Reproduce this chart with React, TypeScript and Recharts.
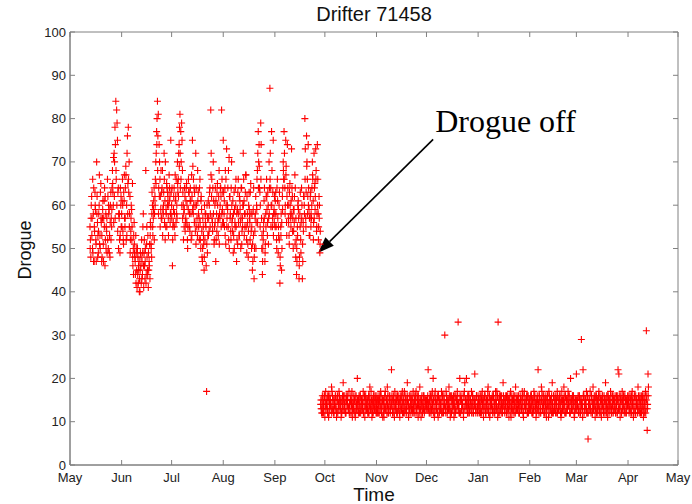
import { ScatterChart, Scatter, XAxis, YAxis, ReferenceArea, ReferenceLine } from "recharts";

// time axis: days since 1 May; each list holds readings half a day apart,
// the "B" and "C" lists are the readings taken in between
const STEP = 0.5;

const monthTicks = [0, 31, 61, 92, 123, 153, 184, 214, 245, 276, 304, 335, 365];
const monthNames = ["May", "Jun", "Jul", "Aug", "Sep", "Oct", "Nov", "Dec", "Jan", "Feb", "Mar", "Apr", "May"];
const drogueTicks = [0, 10, 20, 30, 40, 50, 60, 70, 80, 90, 100];

// drogue attached (May -> end Sep)
const mayOn = [55, 48, 62, 50, 58, 47, 63, 52, 70, 56, 49, 60, 53, 65, 47, 57, 51, 61, 46, 58, 54, 66, 50, 59, 48, 63, 55, 68, 60, 72, 78, 84, 82, 75, 64, 57, 49, 60];
const junOn = [58, 66, 52, 61, 55, 69, 60, 76, 78, 70, 62, 54, 59, 65, 50, 56, 48, 53, 45, 50, 42, 47, 40, 46, 52, 44, 58, 49, 43, 68, 51, 45, 41, 47, 43, 55, 48, 60, 57, 64, 62, 70, 77, 84, 81, 74, 66, 59, 63, 68, 58, 72, 61, 55, 65, 60, 57, 67, 62, 75];
const julOn = [60, 46, 56, 64, 53, 62, 58, 70, 66, 74, 81, 77, 79, 68, 60, 55, 62, 57, 65, 52, 59, 63, 54, 61, 67, 75, 58, 64, 56, 72, 60, 53, 63, 57, 66, 50, 59, 47, 55, 45, 52, 58, 17, 49, 61, 54, 64, 82, 62, 56, 70, 51, 60, 47, 58, 65, 53, 68, 57, 64, 82, 59];
const augOn = [75, 58, 64, 51, 73, 60, 55, 71, 62, 54, 70, 57, 49, 63, 56, 60, 47, 59, 66, 53, 61, 50, 64, 57, 72, 61, 55, 67, 52, 58, 48, 63, 56, 65, 50, 45, 59, 43, 54, 62, 60, 68, 77, 74, 63, 79, 57, 44, 52, 61, 47, 58, 66, 53, 60, 70, 87, 64, 77, 55, 75, 59];
const sepOn = [58, 63, 52, 66, 49, 60, 42, 55, 45, 62, 70, 77, 64, 75, 56, 74, 60, 53, 65, 57, 73, 62, 50, 59, 67, 48, 44, 55, 61, 43, 58, 52, 64, 43, 56, 62, 80, 57, 76, 66, 74, 59, 53, 63, 57, 70, 61, 72, 65, 73, 54, 74, 58, 62, 49];

const mayOnB = [52, 60, 57, 49, 64, 54, 59, 47, 62, 53, 58, 51, 63, 56, 48, 61, 57, 64, 52, 55, 49, 62, 58, 53, 60, 57, 64, 63, 56, 70, 74, 66, 79, 63, 58, 52, 64, 55];
const junOnB = [61, 54, 63, 57, 64, 52, 72, 65, 63, 58, 52, 60, 55, 46, 53, 49, 44, 50, 41, 48, 45, 43, 49, 42, 47, 55, 41, 46, 50, 44, 48, 53, 45, 51, 56, 50, 63, 53, 61, 58, 66, 72, 80, 76, 64, 70, 62, 57, 64, 59, 63, 56, 70, 58, 64, 62, 60, 64, 58, 63];
const julOnB = [64, 55, 62, 58, 61, 66, 57, 63, 72, 78, 64, 70, 75, 63, 58, 64, 56, 64, 60, 55, 63, 58, 64, 52, 62, 69, 60, 63, 54, 64, 57, 61, 55, 64, 52, 62, 48, 57, 51, 60, 56, 46, 60, 53, 57, 63, 58, 72, 57, 64, 61, 55, 64, 52, 63, 56, 62, 58, 64, 55, 66, 63];
const augOnB = [63, 55, 68, 60, 57, 64, 52, 62, 58, 64, 56, 61, 53, 59, 64, 55, 52, 63, 58, 62, 56, 64, 54, 60, 66, 58, 63, 55, 62, 51, 60, 57, 63, 54, 58, 47, 64, 50, 58, 56, 66, 72, 70, 64, 60, 74, 53, 50, 56, 64, 51, 62, 59, 63, 57, 64, 72, 60, 68, 63, 58, 62];
const sepOnB = [61, 55, 64, 57, 53, 63, 46, 58, 50, 64, 66, 72, 60, 69, 62, 64, 56, 63, 58, 61, 64, 57, 54, 62, 64, 52, 47, 60, 57, 48, 63, 56, 60, 47, 62, 58, 73, 63, 70, 62, 64, 57, 62, 58, 64, 66, 56, 64, 62, 68, 58, 66, 55, 60, 54];

const mayOnC = [50, 57, 53, 66, 47, 55, 60, 51, 58, 48, 54, 67, 50, 57, 53, 59, 47, 55, 62, 50, 57, 52, 60, 49, 56, 52, 59, 65, 71, 62, 57, 68, 60, 54, 50, 58, 53, 62];
const junOnC = [55, 60, 51, 67, 57, 67, 53, 58, 66, 55, 49, 57, 52, 48, 44, 51, 47, 42, 49, 44, 46, 40, 45, 48, 43, 49, 46, 52, 47, 42, 55, 44, 49, 46, 53, 51, 58, 55, 59, 52, 60, 65, 74, 68, 58, 62, 55, 68, 57, 53, 60, 66, 52, 59, 55, 63, 53, 61, 56, 58];
const julOnC = [57, 52, 59, 55, 67, 56, 60, 65, 62, 69, 72, 66, 60, 57, 52, 59, 54, 61, 56, 50, 66, 55, 61, 58, 53, 59, 66, 56, 60, 51, 55, 68, 58, 52, 56, 61, 54, 50, 53, 48, 58, 55, 51, 57, 53, 60, 55, 67, 66, 54, 58, 52, 56, 61, 54, 60, 57, 51, 60, 62, 58, 56];
const augOnC = [56, 61, 53, 66, 55, 59, 68, 50, 57, 52, 60, 54, 58, 50, 55, 66, 58, 51, 56, 53, 59, 57, 51, 55, 60, 53, 58, 67, 49, 56, 54, 59, 52, 58, 55, 51, 53, 48, 57, 50, 59, 56, 64, 69, 55, 66, 50, 47, 54, 57, 49, 55, 62, 56, 51, 58, 66, 55, 60, 57, 53, 56];
const sepOnC = [55, 58, 50, 61, 55, 52, 48, 53, 56, 59, 68, 66, 58, 67, 53, 60, 57, 51, 60, 55, 58, 54, 59, 56, 51, 57, 50, 53, 59, 46, 55, 49, 57, 51, 54, 60, 66, 55, 69, 58, 60, 53, 57, 55, 60, 67, 52, 57, 59, 66, 55, 60, 52, 57, 51];

// drogue off (end Sep -> mid Apr)
const octOff = [14, 12, 16, 13, 15, 11, 17, 14, 13, 15, 12, 16, 14, 18, 13, 15, 12, 14, 16, 11, 15, 13, 17, 14, 15, 12, 14, 19, 13, 16, 12, 15, 14, 13, 17, 12, 15, 14, 11, 16, 13, 15, 12, 14, 20, 13, 16, 14, 12, 15, 13, 17, 14, 11, 16, 13, 15, 14, 12, 18, 13, 15, 14, 12, 16, 13, 15, 14];
const novOff = [13, 15, 12, 16, 14, 17, 12, 15, 14, 11, 16, 13, 15, 18, 12, 14, 16, 13, 22, 15, 12, 14, 17, 13, 15, 12, 16, 14, 11, 15, 13, 17, 14, 16, 12, 15, 13, 19, 14, 12, 16, 14, 13, 15, 17, 12, 14, 16, 13, 15, 11, 14, 18, 13, 15, 12, 14, 16, 13, 15];
const decOff = [15, 13, 22, 14, 12, 16, 13, 17, 20, 14, 12, 15, 13, 16, 11, 14, 15, 13, 17, 12, 14, 16, 30, 13, 15, 12, 14, 18, 13, 16, 12, 15, 14, 11, 16, 13, 15, 17, 33, 14, 20, 12, 15, 14, 16, 13, 19, 15, 20, 14, 12, 16, 13, 15, 17, 14, 12, 15, 21, 13, 16, 14];
const janOff = [13, 16, 14, 12, 15, 17, 13, 14, 16, 12, 15, 13, 18, 14, 11, 15, 14, 16, 13, 15, 12, 17, 14, 13, 33, 15, 12, 16, 14, 13, 19, 15, 12, 14, 16, 13, 15, 11, 14, 17, 13, 15, 12, 16, 14, 18, 13, 15, 16, 12, 14, 15, 13, 17, 12, 16, 14, 13, 15, 12, 16, 14];
const febOff = [15, 13, 16, 14, 12, 17, 15, 13, 14, 16, 22, 12, 15, 13, 18, 14, 16, 12, 15, 14, 11, 16, 13, 17, 14, 15, 12, 19, 13, 16, 14, 12, 15, 17, 13, 14, 16, 12, 15, 13, 14, 18, 12, 16, 15, 13, 17, 14, 12, 20, 15, 13, 16, 14, 12, 15];
const marOff = [21, 14, 16, 13, 15, 12, 29, 14, 22, 16, 13, 15, 17, 12, 6, 14, 15, 13, 16, 12, 18, 14, 15, 13, 16, 12, 14, 17, 13, 15, 11, 16, 14, 13, 15, 19, 12, 16, 14, 13, 15, 17, 12, 14, 16, 13, 15, 12, 14, 16, 22, 21, 13, 15, 12, 17, 14, 16, 13, 15, 12, 14];
const aprOff = [14, 16, 13, 15, 12, 17, 14, 13, 16, 12, 15, 14, 18, 13, 15, 12, 16, 14, 13, 15, 12, 17, 31, 8, 21];

const octOffB = [13, 15, 14, 12, 16, 14, 13, 15, 16, 11, 14, 15, 13, 17, 15, 12, 14, 16, 13, 15, 12, 14, 16, 13, 11, 15, 13, 16, 14, 12, 15, 14, 16, 13, 14, 15, 12, 17, 14, 13, 15, 11, 16, 13, 14, 15, 12, 16, 14, 13, 15, 12, 16, 14, 13, 15, 12, 16, 14, 13, 17, 11, 15, 14, 13, 16, 12, 15];
const novOffB = [16, 12, 14, 15, 13, 16, 14, 11, 15, 13, 17, 14, 12, 16, 13, 15, 12, 14, 16, 13, 15, 11, 14, 16, 13, 15, 14, 12, 16, 13, 15, 14, 12, 17, 13, 15, 14, 16, 11, 13, 15, 14, 16, 12, 13, 15, 14, 17, 12, 16, 14, 13, 15, 11, 16, 14, 13, 12, 15, 14];
const decOffB = [14, 16, 13, 15, 14, 12, 16, 13, 15, 11, 17, 14, 13, 15, 16, 12, 14, 13, 15, 16, 12, 14, 13, 17, 14, 15, 13, 16, 11, 15, 14, 13, 16, 14, 12, 15, 13, 16, 14, 12, 15, 16, 13, 14, 11, 17, 14, 15, 13, 16, 14, 12, 15, 13, 14, 16, 12, 14, 15, 13, 16, 12];
const janOffB = [15, 12, 14, 16, 13, 15, 11, 16, 14, 13, 15, 17, 12, 16, 14, 13, 15, 12, 16, 14, 13, 15, 17, 11, 14, 16, 13, 15, 12, 14, 16, 13, 15, 14, 12, 16, 13, 15, 14, 11, 16, 13, 15, 14, 12, 16, 13, 15, 14, 12, 16, 13, 15, 14, 11, 17, 13, 15, 14, 16, 12, 13];
const febOffB = [14, 16, 12, 15, 13, 16, 14, 11, 15, 13, 14, 16, 12, 15, 17, 13, 14, 12, 16, 13, 15, 14, 11, 16, 13, 15, 14, 12, 16, 13, 15, 14, 12, 16, 13, 15, 14, 11, 17, 13, 15, 14, 16, 12, 13, 15, 14, 16, 12, 14, 13, 15, 16, 11, 14, 13];
const marOffB = [13, 15, 12, 16, 14, 13, 15, 11, 16, 14, 13, 15, 12, 16, 14, 13, 17, 12, 15, 14, 13, 16, 11, 15, 14, 13, 16, 12, 15, 14, 13, 16, 12, 15, 14, 13, 16, 11, 15, 14, 13, 16, 12, 14, 15, 13, 16, 12, 14, 15, 13, 16, 11, 14, 15, 13, 16, 12, 15, 14, 13, 16];
const aprOffB = [15, 13, 16, 12, 14, 15, 11, 16, 12, 14, 15, 13, 16, 12, 14, 15, 13, 16, 11, 14, 15, 13, 16, 14, 18];

const octOffC = [15, 13, 12, 14, 16, 13, 15, 14, 12, 16, 13, 15, 14, 12, 16, 13, 15, 14, 13, 12, 16, 14, 15, 13, 14, 12, 16, 15, 13, 14, 12, 16, 15, 13, 12, 14, 16, 15, 13, 14, 12, 16, 14, 13, 15, 12, 14, 16, 13, 15, 14, 12, 16, 13, 15, 14, 13, 12, 16, 15, 14, 13, 12, 16, 15, 14, 13, 12];
const novOffC = [14, 13, 15, 12, 16, 14, 13, 15, 12, 14, 16, 13, 15, 14, 12, 16, 13, 15, 14, 12, 16, 13, 15, 14, 12, 16, 13, 15, 14, 13, 16, 12, 15, 14, 13, 16, 12, 15, 14, 13, 16, 12, 15, 13, 14, 16, 12, 15, 13, 14, 16, 12, 15, 13, 14, 12, 16, 15, 13, 14];
const decOffC = [13, 15, 14, 12, 16, 13, 15, 14, 12, 16, 13, 15, 14, 12, 16, 13, 15, 14, 12, 16, 13, 15, 14, 12, 16, 13, 15, 14, 13, 12, 16, 15, 14, 13, 12, 16, 15, 14, 13, 12, 16, 15, 13, 14, 12, 16, 13, 15, 14, 12, 16, 13, 15, 14, 12, 16, 13, 15, 14, 12, 16, 13];
const janOffC = [14, 15, 13, 16, 12, 14, 15, 13, 16, 12, 14, 15, 13, 16, 12, 14, 15, 13, 16, 12, 14, 15, 13, 16, 12, 14, 15, 13, 16, 12, 14, 15, 13, 16, 12, 14, 15, 13, 16, 12, 14, 15, 13, 16, 12, 14, 15, 13, 16, 12, 14, 15, 13, 16, 12, 14, 15, 13, 16, 12, 14, 15];
const febOffC = [13, 16, 14, 12, 15, 13, 16, 14, 12, 15, 13, 16, 14, 12, 15, 13, 16, 14, 12, 15, 13, 16, 14, 12, 15, 13, 16, 14, 12, 15, 13, 16, 14, 12, 15, 13, 16, 14, 12, 15, 13, 16, 14, 12, 15, 13, 16, 14, 12, 15, 13, 16, 14, 12, 15, 13];
const marOffC = [15, 14, 13, 16, 12, 15, 14, 13, 16, 12, 15, 14, 13, 16, 12, 15, 14, 13, 16, 12, 15, 14, 13, 16, 12, 15, 14, 13, 16, 12, 15, 14, 13, 16, 12, 15, 14, 13, 16, 12, 15, 14, 13, 16, 12, 15, 14, 13, 16, 12, 15, 14, 13, 16, 12, 15, 14, 13, 16, 12, 15, 14];
const aprOffC = [14, 12, 15, 13, 16, 14, 12, 15, 13, 16, 14, 12, 15, 13, 16, 14, 12, 15, 13, 16, 14, 12, 15, 13, 16];

const segments: [number, number[]][] = [
  [12, mayOn], [31, junOn], [61, julOn], [92, augOn], [123, sepOn],
  [12.25, mayOnB], [31.25, junOnB], [61.25, julOnB], [92.25, augOnB], [123.25, sepOnB],
  [12.125, mayOnC], [31.125, junOnC], [61.125, julOnC], [92.125, augOnC], [123.125, sepOnC],
  [150.5, octOff], [184, novOff], [214, decOff], [245, janOff], [276, febOff], [304, marOff], [335, aprOff],
  [150.75, octOffB], [184.25, novOffB], [214.25, decOffB], [245.25, janOffB], [276.25, febOffB], [304.25, marOffB], [335.25, aprOffB],
  [150.625, octOffC], [184.125, novOffC], [214.125, decOffC], [245.125, janOffC], [276.125, febOffC], [304.125, marOffC], [335.125, aprOffC],
];

const points = segments.flatMap(([start, vals]) => vals.map((v, i) => ({ t: start + i * STEP, v })));

const W = 692;
const H = 504;
const TOP = 32;
const BOTTOM = 465;
const LEFT = 70;
const RIGHT = 678;
const AXIS = "#808080";
const SANS = "'Liberation Sans', Arial, Helvetica, sans-serif";

const Plus = (props: any) => {
  const { cx, cy } = props;
  if (cx == null || cy == null) return <g />;
  return <path d={`M${cx - 3.5},${cy}h7M${cx},${cy - 3.5}v7`} stroke="#ff0000" strokeWidth={1.1} fill="none" />;
};

const XTick = (props: any) => {
  const { x, payload, index } = props;
  return (
    <g>
      <line x1={x} y1={BOTTOM} x2={x} y2={BOTTOM - 5} stroke={AXIS} />
      <line x1={x} y1={TOP} x2={x} y2={TOP + 5} stroke={AXIS} />
      <text x={x} y={BOTTOM + 16.5} textAnchor="middle" fontSize={13} fontFamily={SANS} fill="#222">
        {monthNames[index] ?? payload.value}
      </text>
    </g>
  );
};

const YTick = (props: any) => {
  const { y, payload } = props;
  return (
    <g>
      <line x1={LEFT} y1={y} x2={LEFT + 5} y2={y} stroke={AXIS} />
      <line x1={RIGHT} y1={y} x2={RIGHT - 5} y2={y} stroke={AXIS} />
      <text x={LEFT - 4} y={y + 4.5} textAnchor="end" fontSize={13} fontFamily={SANS} fill="#222">
        {payload.value}
      </text>
    </g>
  );
};

// arrow pointing at the last drogued reading, label at its tail
const Arrow = (props: any) => {
  const { x1, y1, x2, y2 } = props;
  if (x1 == null) return <g />;
  const dx = x1 - x2;
  const dy = y1 - y2;
  const len = Math.hypot(dx, dy);
  const ux = dx / len;
  const uy = dy / len;
  const hl = 16;
  const hw = 6;
  const bx = x1 - ux * hl;
  const by = y1 - uy * hl;
  return (
    <g>
      <line x1={x2} y1={y2} x2={bx} y2={by} stroke="#000" strokeWidth={1.6} />
      <path d={`M${x1},${y1}L${bx - uy * hw},${by + ux * hw}L${bx + uy * hw},${by - ux * hw}Z`} fill="#000" />
      <text x={x2 + 2} y={y2 - 7} fontSize={32} fontFamily="'Liberation Serif', 'Times New Roman', serif" fill="#000">
        Drogue off
      </text>
    </g>
  );
};

export default function App() {
  return (
    <div style={{ position: "relative", width: W, height: H, background: "#fff" }}>
      <style>{"body{margin:0}"}</style>
      <ScatterChart width={W} height={H} margin={{ top: TOP, right: W - RIGHT, left: 0, bottom: 0 }}>
        <XAxis
          type="number"
          dataKey="t"
          domain={[0, 365]}
          ticks={monthTicks}
          interval={0}
          height={H - BOTTOM}
          tickLine={false}
          axisLine={{ stroke: AXIS }}
          tick={<XTick />}
        />
        <YAxis
          type="number"
          dataKey="v"
          domain={[0, 100]}
          ticks={drogueTicks}
          interval={0}
          width={LEFT}
          tickLine={false}
          axisLine={{ stroke: AXIS }}
          tick={<YTick />}
        />
        <ReferenceArea x1={0} x2={365} y1={0} y2={100} fill="none" stroke={AXIS} strokeWidth={1} />
        <Scatter data={points} shape={<Plus />} isAnimationActive={false} />
        <ReferenceLine
          segment={[{ x: 149, y: 49 }, { x: 218, y: 75.2 }]}
          shape={<Arrow />}
          ifOverflow="visible"
        />
      </ScatterChart>
      <svg width={W} height={H} style={{ position: "absolute", left: 0, top: 0, pointerEvents: "none" }}>
        <text x={(LEFT + RIGHT) / 2} y={21} textAnchor="middle" fontSize={20} fontFamily={SANS} fill="#111">
          Drifter 71458
        </text>
        <text x={(LEFT + RIGHT) / 2} y={501} textAnchor="middle" fontSize={19} fontFamily={SANS} fill="#111">
          Time
        </text>
        <text transform="translate(31,250) rotate(-90)" textAnchor="middle" fontSize={18} fontFamily={SANS} fill="#111">
          Drogue
        </text>
      </svg>
    </div>
  );
}
